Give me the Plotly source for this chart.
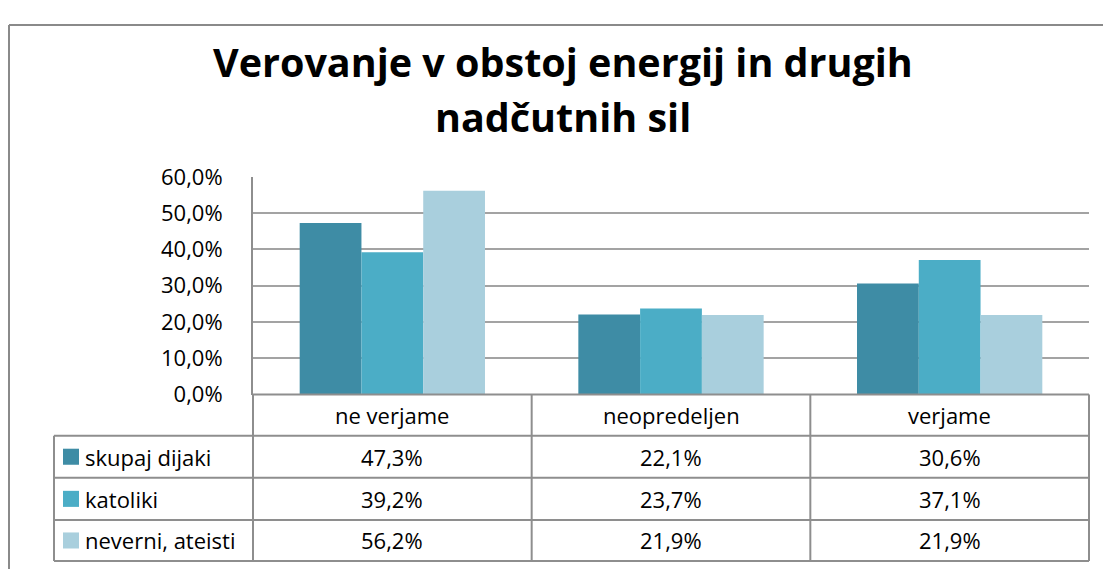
import plotly.graph_objects as go

categories = ["ne verjame", "neopredeljen", "verjame"]
series_names = ["skupaj dijaki", "katoliki", "neverni, ateisti"]
skupaj_dijaki = [47.3, 22.1, 30.6]
katoliki = [39.2, 23.7, 37.1]
neverni_ateisti = [56.2, 21.9, 21.9]
y_ticks = [0, 10, 20, 30, 40, 50, 60]
title_lines = ["Verovanje v obstoj energij in drugih", "nadčutnih sil"]

series_values = [skupaj_dijaki, katoliki, neverni_ateisti]
colors = ["#3E8CA5", "#4BADC6", "#A9CFDD"]


def fmt_pct(v):
    return ("%.1f" % v).replace(".", ",") + "%"


# page body has an 8px margin
OFF = 8
# observed vertical mapping of the photographed page: img_y = A + B * page_y
A, B = 17.0, 0.945
W = 1111 - 2 * OFF
H = 575
FONT = "Open Sans"
TFONT = "Open Sans"
FS = 22
LINE = "#8E8E8E"
GRID = "#A3A3A3"


def px(x):
    return (x - OFF) / W


def py(y):
    return 1 - ((y - A) / B - OFF) / H


# target positions (reference pixels)
PL, PR, PT, PB = 253, 1089, 177, 394
TL = 54
row_edges = [394, 435, 477, 519, 560]
col_edges = [PL + (PR - PL) * i / 3 for i in range(4)]

fig = go.Figure()
for name, vals, c in zip(series_names, series_values, colors):
    fig.add_trace(go.Bar(x=categories, y=vals, name=name,
                         marker=dict(color=c, line=dict(width=0))))

shapes = []
# outer border (top + left)
shapes.append(dict(type="line", xref="paper", yref="paper", x0=px(9), x1=px(1120), y0=1 - 1 / H, y1=1 - 1 / H,
                   line=dict(color="#8A8A8A", width=2)))
shapes.append(dict(type="line", xref="paper", yref="paper", x0=px(9), x1=px(9), y0=1 - 1 / H, y1=0,
                   line=dict(color="#8A8A8A", width=2)))
# table horizontal lines
shapes.append(dict(type="line", xref="paper", yref="paper", x0=px(PL), x1=px(PR),
                   y0=py(row_edges[0]), y1=py(row_edges[0]), line=dict(color=LINE, width=2)))
for r in row_edges[1:]:
    shapes.append(dict(type="line", xref="paper", yref="paper", x0=px(TL), x1=px(PR),
                       y0=py(r), y1=py(r), line=dict(color=LINE, width=2)))
# table vertical lines
shapes.append(dict(type="line", xref="paper", yref="paper", x0=px(TL), x1=px(TL),
                   y0=py(row_edges[1]), y1=py(row_edges[-1]), line=dict(color=LINE, width=2)))
for cx in col_edges:
    shapes.append(dict(type="line", xref="paper", yref="paper", x0=px(cx), x1=px(cx),
                       y0=py(row_edges[0]), y1=py(row_edges[-1]), line=dict(color=LINE, width=2)))

annotations = []
# title
for text, yc in zip(title_lines, [62, 117]):
    annotations.append(dict(text="<b>%s</b>" % text, xref="paper", yref="paper", x=px(563), y=py(yc),
                            showarrow=False, font=dict(family=TFONT, size=39.5, color="#000"),
                            xanchor="center", yanchor="middle"))
# header categories
for i, cat in enumerate(categories):
    cxm = (col_edges[i] + col_edges[i + 1]) / 2
    annotations.append(dict(text=cat, xref="paper", yref="paper", x=px(cxm), y=py((row_edges[0] + row_edges[1]) / 2),
                            showarrow=False, font=dict(family=FONT, size=FS, color="#000"),
                            xanchor="center", yanchor="middle"))
# rows
for r, (name, vals, c) in enumerate(zip(series_names, series_values, colors)):
    ym = (row_edges[r + 1] + row_edges[r + 2]) / 2
    shapes.append(dict(type="rect", xref="paper", yref="paper", x0=px(63), x1=px(79),
                       y0=py(ym - 8), y1=py(ym + 8), fillcolor=c, line=dict(width=0)))
    annotations.append(dict(text=name, xref="paper", yref="paper", x=px(83), y=py(ym),
                            showarrow=False, font=dict(family=FONT, size=FS, color="#000"),
                            xanchor="left", yanchor="middle"))
    for i, v in enumerate(vals):
        cxm = (col_edges[i] + col_edges[i + 1]) / 2
        annotations.append(dict(text=fmt_pct(v), xref="paper", yref="paper",
                                x=px(cxm), y=py(ym), showarrow=False,
                                font=dict(family=FONT, size=FS, color="#000"),
                                xanchor="center", yanchor="middle"))

fig.update_layout(
    width=W, height=H,
    margin=dict(l=0, r=0, t=0, b=0),
    paper_bgcolor="white", plot_bgcolor="white",
    barmode="group", bargap=0.335, bargroupgap=0,
    showlegend=False,
    shapes=shapes, annotations=annotations,
    xaxis=dict(domain=[px(PL), px(PR)], showticklabels=False, showgrid=False,
               zeroline=False, showline=False, range=[-0.5, 2.5], fixedrange=True),
    yaxis=dict(domain=[py(PB), py(PT)], range=[0, 60], tickvals=y_ticks,
               ticktext=[fmt_pct(t) for t in y_ticks],
               showgrid=True, gridcolor=GRID, gridwidth=2,
               zeroline=False, showline=True, linecolor=LINE, linewidth=2,
               ticks="", ticklabelstandoff=24,
               tickfont=dict(family=FONT, size=FS, color="#000"), fixedrange=True),
)

fig.write_html("out.html")
